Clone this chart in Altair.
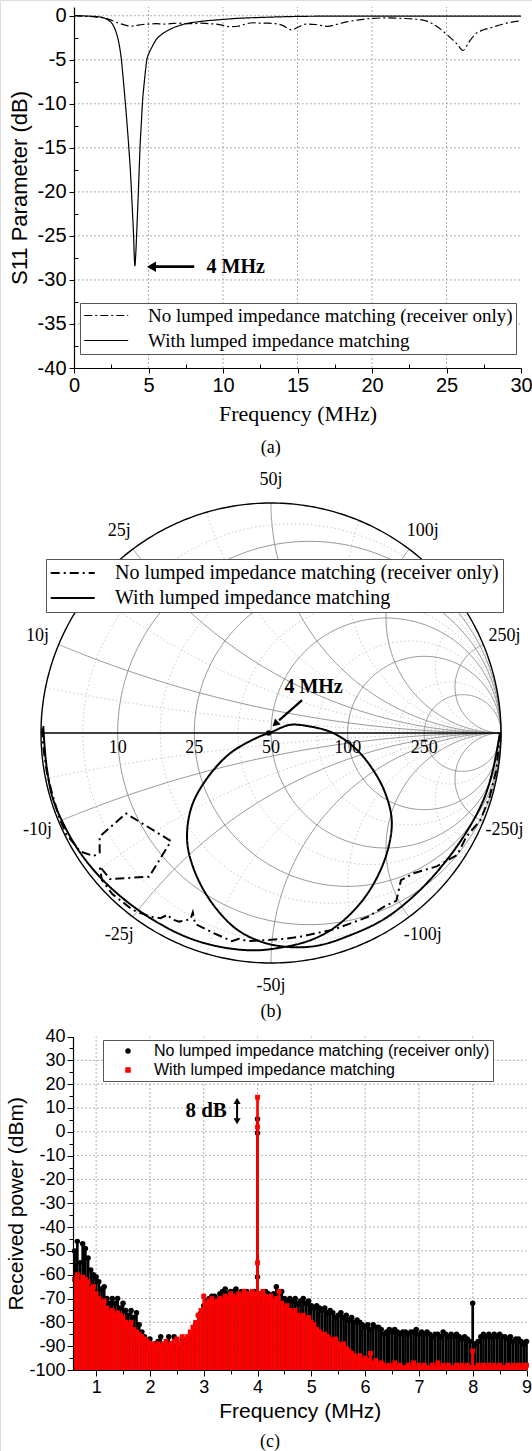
import altair as alt
import numpy as np
import pandas as pd

W, H = 532, 1451
SERIF = "Liberation Serif"
SANS = "Liberation Sans"
NO = "No lumped impedance matching (receiver only)"
WITH = "With lumped impedance matching"

# ---------------- (a) S11 parameter ----------------
a_with_f = [0, 0.5, 1.0, 1.5, 2.0, 2.3, 2.6, 2.85, 3.0, 3.18, 3.32, 3.45, 3.57, 3.68, 3.78, 3.86, 3.93, 4.0, 4.05, 4.09,
            4.13, 4.2, 4.26, 4.32, 4.375, 4.43, 4.51, 4.59, 4.72, 4.89, 5.05, 5.25, 5.5, 5.9, 6.5, 7.3, 8.5, 9.8, 11, 12.5,
            14, 16, 18, 20, 25, 30]
a_with_s = [0, -0.02, -0.05, -0.1, -0.25, -0.5, -1.0, -2.0, -3.0, -5, -7.5, -10, -12.5, -15, -17.5, -20, -22.5, -25, -27.5, -28.4,
            -27.5, -25, -22.5, -20, -17.5, -15, -12.5, -10, -7.5, -5, -4.2, -3.5, -2.75, -2.1, -1.5, -1.0, -0.65, -0.45, -0.3, -0.2,
            -0.12, -0.06, -0.05, -0.05, -0.05, -0.05]
a_no_f = [0, 0.5, 1, 1.5, 2, 2.5, 3, 3.5, 3.8, 4.2, 4.6, 5.0, 5.5, 6, 6.5, 7, 7.5, 8, 8.5, 9,
          9.5, 10, 10.5, 11, 11.5, 12, 12.5, 13, 13.5, 14, 14.6, 15.1, 15.6, 16.2, 17, 17.6, 18.3, 19, 20, 21,
          22, 23, 23.8, 24.5, 25.2, 25.7, 26.1, 26.5, 27, 27.5, 28, 28.7, 29.3, 30]
a_no_s = [0, -0.05, -0.08, -0.15, -0.25, -0.5, -0.85, -1.1, -1.2, -1.1, -1.0, -0.95, -0.9, -0.95, -0.9, -0.85, -0.9, -0.9, -0.85, -0.9,
          -0.95, -1.1, -1.25, -1.2, -0.95, -0.8, -0.85, -0.85, -0.9, -1.1, -1.6, -1.25, -0.95, -1.0, -1.2, -1.0, -0.7, -0.5, -0.3, -0.25,
          -0.3, -0.4, -0.7, -1.4, -2.4, -3.2, -3.95, -3.0, -2.0, -1.6, -1.35, -1.0, -0.75, -0.6]
a_major_x = [0, 5, 10, 15, 20, 25, 30]
a_major_y = [-40, -35, -30, -25, -20, -15, -10, -5, 0]
a_grid_x = [5, 10, 15, 20, 25]
a_grid_y = [-35, -30, -25, -20, -15, -10, -5, 0]
a_minor_x = [2.5, 7.5, 12.5, 17.5, 22.5, 27.5]
a_minor_y = [-37.5, -32.5, -27.5, -22.5, -17.5, -12.5, -7.5, -2.5]

# ---------------- (b) Smith chart ----------------
smith_r_major = [0.2, 0.5, 1.0, 2.0, 5.0]
smith_r_minor = [0.1, 0.35, 0.75, 1.5, 3.5]
smith_x_major = [0.2, 0.5, 1.0, 2.0, 5.0]
smith_x_minor = [0.1, 0.35, 0.75, 1.5, 3.5]
z0 = 50
b_with_gx = [-0.99, -0.985, -0.975, -0.95, -0.90, -0.83, -0.74, -0.63, -0.50, -0.36, -0.22, -0.08, 0.03,
             0.16, 0.27, 0.38, 0.46, 0.51, 0.525, 0.50, 0.45, 0.37, 0.27, 0.16, 0.08, 0.0, -0.06, -0.18, -0.28,
             -0.345, -0.365, -0.34, -0.27, -0.16, -0.05, 0.07,
             0.2, 0.33, 0.49, 0.63, 0.75, 0.85, 0.92, 0.96, 0.985, 0.995]
b_with_gy = [0.03, -0.05, -0.15, -0.28, -0.40, -0.52, -0.63, -0.73, -0.82, -0.89, -0.93, -0.945, -0.935,
             -0.905, -0.85, -0.75, -0.63, -0.50, -0.38, -0.27, -0.17, -0.07, 0.0, 0.03, 0.035, 0.003, -0.02, -0.09, -0.20,
             -0.32, -0.46, -0.58, -0.72, -0.845, -0.905, -0.93,
             -0.925, -0.885, -0.81, -0.70, -0.57, -0.43, -0.30, -0.18, -0.06, 0.0]
b_no_gx = [-0.995, -0.99, -0.975, -0.95, -0.92, -0.89, -0.83, -0.77, -0.745, -0.745, -0.63, -0.435, -0.53, -0.70, -0.745,
           -0.735, -0.69, -0.60, -0.52, -0.48, -0.45, -0.43, -0.40, -0.35, -0.34, -0.33, -0.25, -0.17, -0.14, -0.10,
           -0.02, 0.06, 0.13, 0.27, 0.34, 0.42, 0.50, 0.545, 0.565, 0.62, 0.72, 0.81, 0.85, 0.91, 0.95, 0.98, 0.993, 0.998]
b_no_gy = [0.02, -0.06, -0.17, -0.27, -0.37, -0.44, -0.515, -0.535, -0.52, -0.45, -0.35, -0.47, -0.625, -0.635, -0.58,
           -0.64, -0.70, -0.77, -0.80, -0.805, -0.79, -0.81, -0.82, -0.81, -0.78, -0.83, -0.87, -0.905, -0.895, -0.905,
           -0.90, -0.895, -0.885, -0.855, -0.83, -0.80, -0.75, -0.73, -0.64, -0.61, -0.58, -0.53, -0.45, -0.38, -0.28, -0.16, -0.03, 0.0]

# ---------------- (c) received power ----------------
c_freq = [round(0.6 + 0.05 * i, 2) for i in range(169)]
c_no = [-50, -46, -55, -47, -49, -53, -58, -60, -61, -63,
        -66, -65, -70, -72, -70, -72, -70, -74, -72, -75,
        -77, -75, -78, -76, -81, -84, -86, -88, -87, -90,
        -89, -88, -86, -90, -89, -86, -89, -86, -88, -91,
        -87, -89, -88, -86, -84, -81, -77, -76, -73, -71,
        -70, -69, -69, -70, -68, -67, -66, -68, -67, -67,
        -66, -68, -67, -67, -67, -69, -68, -67, 5.4, -68,
        -69, -67, -68, -69, -68, -65, -68, -67, -70, -71,
        -70, -71, -70, -72, -71, -70, -72, -71, -73, -74,
        -73, -74, -75, -74, -76, -75, -76, -78, -77, -76,
        -78, -77, -79, -78, -80, -79, -80, -81, -82, -81,
        -83, -81, -82, -82, -83, -85, -84, -83, -84, -83,
        -84, -85, -84, -84, -85, -84, -84, -83, -85, -84,
        -85, -84, -85, -86, -85, -85, -86, -84, -85, -86,
        -85, -86, -85, -86, -87, -86, -87, -88, -72, -89,
        -88, -86, -85, -86, -85, -86, -85, -86, -85, -86,
        -86, -87, -86, -88, -87, -87, -88, -89, -88]
c_with = [-62, -60, -63, -61, -62, -63, -66, -65, -68, -70,
          -72, -71, -74, -76, -75, -77, -76, -77, -78, -80,
          -81, -80, -83, -84, -85, -86, -87, -88, -89, -89,
          -90, -89, -90, -89, -88, -90, -89, -88, -87, -89,
          -86, -87, -86, -84, -82, -80, -77, -75, -69, -72,
          -71, -70, -72, -71, -70, -71, -69, -70, -68, -69,
          -70, -68, -69, -67, -68, -69, -67, -68, 14.5, -68,
          -67, -69, -70, -69, -71, -70, -67, -72, -74, -73,
          -75, -76, -75, -77, -78, -77, -79, -78, -80, -81,
          -83, -84, -85, -85, -86, -87, -88, -87, -89, -90,
          -89, -91, -92, -93, -94, -95, -94, -96, -95, -96,
          -93, -97, -96, -98, -97, -98, -99, -98, -99, -97,
          -99, -98, -99, -99, -98, -99, -97, -99, -98, -99,
          -98, -99, -99, -98, -99, -97, -99, -98, -99, -98,
          -99, -99, -98, -99, -98, -99, -98, -99, -92, -99,
          -98, -99, -98, -99, -98, -99, -98, -99, -98, -99,
          -99, -98, -99, -98, -99, -98, -99, -98, -98]
c_no_extra_f, c_no_extra_db = [4.0, 4.0], [-0.5, -61]
c_with_extra_f, c_with_extra_db = [4.0, 4.0], [2.0, -55]
c_major_x = [1, 2, 3, 4, 5, 6, 7, 8, 9]
c_major_y = list(range(-100, 41, 10))
c_grid_x = [1, 2, 3, 4, 5, 6, 7, 8]
c_grid_y = list(range(-90, 31, 10))
c_minor_x = [1.5, 2.5, 3.5, 4.5, 5.5, 6.5, 7.5, 8.5]
c_minor_y = list(range(-95, 40, 10))


def sc(domain, rng):
    return alt.Scale(domain=domain, range=rng, nice=False, zero=False)


AX = sc([0, 30], [74, 521])
AY = sc([-40, 1], [368, 6.9])
BX = sc([-1, 1], [41, 501])
BY = sc([-1, 1], [963, 503])
CX = sc([0.57, 9], [73, 526.5])
CY = sc([-100, 40], [1370, 1036.5])

GRID = dict(color="#9a9a9a", strokeDash=[2, 2], strokeWidth=0.8)
NUM = "'' + datum.value"
LINE_SYM = "M-3,0L3,0"   # legend line symbol, 3*sqrt(size) px long


def main_axis(orient, offset, values, title, tfont, tsize, lsize, tpad=6, lpad=3, tick=5):
    return alt.Axis(orient=orient, offset=offset, values=values, title=title, titleFont=tfont,
                    titleFontSize=tsize, titleFontWeight="normal", titleColor="black", titlePadding=tpad,
                    labelFont=SANS, labelFontSize=lsize, labelColor="black", labelPadding=lpad,
                    tickSize=tick, tickColor="black", tickWidth=1, domainColor="black", domainWidth=1.2,
                    grid=False, labelExpr=NUM, labelFlush=False, labelOverlap=False, zindex=1)


def minor_axis(orient, offset, values, tick=4):
    return alt.Axis(orient=orient, offset=offset, values=values, labels=False, domain=False, title=None,
                    tickSize=tick, tickColor="black", tickWidth=1, grid=False, zindex=1)


def xy(xs, ys, xf="x", yf="y"):
    return dict(x=alt.X(f"{xf}:Q", scale=xs, axis=None), y=alt.Y(f"{yf}:Q", scale=ys, axis=None))


def line_legend(lx, ly, fsize, sw, pad, symoff, laboff):
    return alt.Legend(orient="none", legendX=lx, legendY=ly, title=None, labelFont=SERIF, labelFontSize=fsize,
                      labelColor="black", labelLimit=600, symbolType=LINE_SYM, symbolSize=215,
                      symbolStrokeWidth=sw, symbolStrokeColor="black", symbolFillColor="transparent",
                      strokeColor="#555555", fillColor="white", padding=pad, rowPadding=5,
                      symbolOffset=symoff, labelOffset=laboff)


layers = []

# ---------- panel (a) ----------
gva = pd.DataFrame({"x": a_grid_x, "lo": -40, "hi": 1})
layers.append(alt.Chart(gva).mark_rule(**GRID).encode(
    x=alt.X("x:Q", scale=AX, axis=minor_axis("top", -368, a_minor_x)),
    y=alt.Y("lo:Q", scale=AY, axis=None), y2="hi:Q"))
gha = pd.DataFrame({"y": a_grid_y, "lo": 0, "hi": 30})
layers.append(alt.Chart(gha).mark_rule(**GRID).encode(
    y=alt.Y("y:Q", scale=AY, axis=minor_axis("right", 74 - W, a_minor_y)),
    x=alt.X("lo:Q", scale=AX, axis=None), x2="hi:Q"))
dfa = pd.DataFrame({"f": a_no_f + a_with_f, "s": a_no_s + a_with_s,
                    "series": [NO] * len(a_no_f) + [WITH] * len(a_with_f)})
legA = line_legend(80, 303, 19, 1.2, 3, 13.7, 32.3)
layers.append(alt.Chart(dfa).mark_line(color="black", strokeWidth=1.2, interpolate="monotone").encode(
    x=alt.X("f:Q", scale=AX, axis=main_axis("bottom", 368 - H, a_major_x, "Frequency (MHz)", SERIF, 22, 20, tpad=8, lpad=2)),
    y=alt.Y("s:Q", scale=AY, axis=main_axis("left", -74, a_major_y, "S11 Parameter (dB)", SANS, 22, 20)),
    strokeDash=alt.StrokeDash("series:N", scale=alt.Scale(domain=[NO, WITH], range=[[8, 3, 2, 3], [1, 0]]), legend=legA)))
arrA = pd.DataFrame({"x": [8.07], "x2": [5.5], "y": [-28.5]})
layers.append(alt.Chart(arrA).mark_rule(color="black", strokeWidth=2.7).encode(
    x=alt.X("x:Q", scale=AX, axis=None), x2="x2:Q", y=alt.Y("y:Q", scale=AY, axis=None)))
layers.append(alt.Chart(pd.DataFrame({"x": [5.2], "y": [-28.5]})).mark_point(
    shape="triangle-left", filled=True, color="black", size=110, opacity=1).encode(**xy(AX, AY)))
txtA = pd.DataFrame({"x": [10.85], "y": [-28.5], "t": ["4 MHz"]})
layers.append(alt.Chart(txtA).mark_text(font=SERIF, fontSize=20, fontWeight="bold", color="black",
                                        baseline="middle").encode(text="t:N", **xy(AX, AY)))
capA = pd.DataFrame({"x": [13.2], "y": [-49.1], "t": ["(a)"]})
layers.append(alt.Chart(capA).mark_text(font=SERIF, fontSize=18, color="black", baseline="middle").encode(
    text="t:N", **xy(AX, AY)))

# ---------- panel (b) Smith chart ----------


def r_circle(r, n=240):
    t = np.linspace(0, 2 * np.pi, n)
    c, rad = r / (1 + r), 1 / (1 + r)
    return c + rad * np.cos(t), rad * np.sin(t)


def x_arc(x, n=240):
    rr = np.concatenate([[0.0], np.logspace(-2.5, 3.5, n)])
    g = (rr + 1j * x - 1) / (rr + 1j * x + 1)
    return g.real, g.imag


def grid_frame(rvals, xvals):
    parts = []
    for i, r in enumerate(rvals):
        gx, gy = r_circle(r)
        parts.append(pd.DataFrame({"gx": gx, "gy": gy, "gid": f"r{i}", "k": np.arange(len(gx))}))
    for i, x in enumerate(xvals):
        for sgn in (1, -1):
            gx, gy = x_arc(sgn * x)
            parts.append(pd.DataFrame({"gx": gx, "gy": gy, "gid": f"x{i}{sgn}", "k": np.arange(len(gx))}))
    return pd.concat(parts, ignore_index=True)


minor_df = grid_frame(smith_r_minor, smith_x_minor)
layers.append(alt.Chart(minor_df).mark_line(color="#bdbdbd", strokeDash=[1.5, 2.5], strokeWidth=0.8).encode(
    detail="gid:N", order="k:Q", **xy(BX, BY, "gx", "gy")))
major_df = grid_frame(smith_r_major, smith_x_major)
layers.append(alt.Chart(major_df).mark_line(color="#8c8c8c", strokeWidth=0.9).encode(
    detail="gid:N", order="k:Q", **xy(BX, BY, "gx", "gy")))
ux, uy = r_circle(0.0, 360)
unit_df = pd.DataFrame({"gx": ux, "gy": uy, "k": np.arange(len(ux))})
layers.append(alt.Chart(unit_df).mark_line(color="black", strokeWidth=1.4).encode(
    order="k:Q", **xy(BX, BY, "gx", "gy")))
layers.append(alt.Chart(pd.DataFrame({"x": [-1], "x2": [1], "y": [0]})).mark_rule(color="black", strokeWidth=1.3).encode(
    x=alt.X("x:Q", scale=BX, axis=None), x2="x2:Q", y=alt.Y("y:Q", scale=BY, axis=None)))
b_dash = alt.Scale(domain=[NO, WITH], range=[[9, 4, 2, 4], [1, 0]])
dfb_no = pd.DataFrame({"gx": b_no_gx, "gy": b_no_gy, "series": NO, "k": range(len(b_no_gx))})
dfb_with = pd.DataFrame({"gx": b_with_gx, "gy": b_with_gy, "series": WITH, "k": range(len(b_with_gx))})
legB = line_legend(46, 559, 20, 2.2, 4, 12.7, 32.3)
layers.append(alt.Chart(dfb_no).mark_line(color="black", strokeWidth=2.0).encode(
    order="k:Q", strokeDash=alt.StrokeDash("series:N", scale=b_dash, legend=legB),
    **xy(BX, BY, "gx", "gy")))
layers.append(alt.Chart(dfb_with).mark_line(color="black", strokeWidth=2.0, interpolate="catmull-rom").encode(
    order="k:Q", strokeDash=alt.StrokeDash("series:N", scale=b_dash, legend=None),
    **xy(BX, BY, "gx", "gy")))
layers.append(alt.Chart(pd.DataFrame({"x": [-0.01], "y": [0.0]})).mark_point(
    filled=True, color="black", size=30, opacity=1).encode(**xy(BX, BY)))
layers.append(alt.Chart(pd.DataFrame({"x": [0.135], "y": [0.143], "x2": [0.035], "y2": [0.055]})).mark_rule(
    color="black", strokeWidth=2.2).encode(
    x=alt.X("x:Q", scale=BX, axis=None), y=alt.Y("y:Q", scale=BY, axis=None), x2="x2:Q", y2="y2:Q"))
layers.append(alt.Chart(pd.DataFrame({"x": [0.022], "y": [0.043]})).mark_point(
    shape="triangle", filled=True, color="black", size=70, opacity=1, angle=228).encode(**xy(BX, BY)))
layers.append(alt.Chart(pd.DataFrame({"x": [0.185], "y": [0.2], "t": ["4 MHz"]})).mark_text(
    font=SERIF, fontSize=20, fontWeight="bold", color="black", baseline="middle").encode(text="t:N", **xy(BX, BY)))
rlab = pd.DataFrame({"x": [(r - 1) / (r + 1) for r in smith_r_major], "y": 0.0,
                     "t": [str(int(round(r * z0))) for r in smith_r_major]})
layers.append(alt.Chart(rlab).mark_text(font=SERIF, fontSize=18, color="black", baseline="middle", dy=15).encode(
    text="t:N", **xy(BX, BY)))
xl_x, xl_y, xl_t = [], [], []
for xv in smith_x_major:
    for sgn in (1, -1):
        g = (1j * sgn * xv - 1) / (1j * sgn * xv + 1)
        ang = np.angle(g)
        xl_x.append(1.1 * np.cos(ang))
        xl_y.append(1.1 * np.sin(ang))
        xl_t.append(("-" if sgn < 0 else "") + f"{int(round(xv * z0))}j")
xlab = pd.DataFrame({"x": xl_x, "y": xl_y, "t": xl_t})
layers.append(alt.Chart(xlab).mark_text(font=SERIF, fontSize=18, color="black", baseline="middle").encode(
    text="t:N", **xy(BX, BY)))
layers.append(alt.Chart(pd.DataFrame({"x": [0.0], "y": [-1.215], "t": ["(b)"]})).mark_text(
    font=SERIF, fontSize=18, color="black", baseline="middle").encode(text="t:N", **xy(BX, BY)))

# ---------- panel (c) ----------
gvc = pd.DataFrame({"x": c_grid_x, "lo": -100, "hi": 40})
layers.append(alt.Chart(gvc).mark_rule(**GRID).encode(
    x=alt.X("x:Q", scale=CX, axis=minor_axis("bottom", 1370 - H, c_minor_x, 4)),
    y=alt.Y("lo:Q", scale=CY, axis=None), y2="hi:Q"))
ghc = pd.DataFrame({"y": c_grid_y, "lo": 0.57, "hi": 9})
layers.append(alt.Chart(ghc).mark_rule(**GRID).encode(
    y=alt.Y("y:Q", scale=CY, axis=minor_axis("left", -73, c_minor_y, 4)),
    x=alt.X("lo:Q", scale=CX, axis=None), x2="hi:Q"))
ser_color = alt.Scale(domain=[NO, WITH], range=["black", "#ff0000"])
ser_shape = alt.Scale(domain=[NO, WITH], range=["circle", "square"])
legC = alt.Legend(orient="none", legendX=103, legendY=1040, title=None, labelFont=SANS, labelFontSize=16,
                  labelColor="black", labelLimit=600, symbolSize=30, symbolStrokeWidth=0,
                  strokeColor="#555555", fillColor="white", padding=3, rowPadding=3, labelOffset=18,
                  symbolOffset=14)
no_df = pd.DataFrame({"f": c_freq, "db": c_no, "lo": -100, "series": NO})
with_df = pd.DataFrame({"f": c_freq, "db": c_with, "lo": -100, "series": WITH})
layers.append(alt.Chart(no_df).mark_rule(color="black", strokeWidth=2.7).encode(
    x=alt.X("f:Q", scale=CX, axis=main_axis("bottom", 1370 - H, c_major_x, "Frequency (MHz)", SANS, 21, 18, tpad=4, lpad=2, tick=6)),
    y=alt.Y("db:Q", scale=CY, axis=main_axis("left", -73, c_major_y, "Received power (dBm)", SANS, 21, 18, tpad=2, lpad=2, tick=6)),
    y2="lo:Q"))
no_pts = pd.DataFrame({"f": c_freq + c_no_extra_f, "db": c_no + c_no_extra_db, "series": NO})
layers.append(alt.Chart(no_pts).mark_point(filled=True, size=30, opacity=1).encode(
    color=alt.Color("series:N", scale=ser_color, legend=legC),
    shape=alt.Shape("series:N", scale=ser_shape, legend=legC),
    **xy(CX, CY, "f", "db")))
layers.append(alt.Chart(with_df).mark_rule(color="#ff0000", strokeWidth=2.7).encode(
    x=alt.X("f:Q", scale=CX, axis=None), y=alt.Y("db:Q", scale=CY, axis=None), y2="lo:Q"))
with_pts = pd.DataFrame({"f": c_freq + c_with_extra_f, "db": c_with + c_with_extra_db, "series": WITH})
layers.append(alt.Chart(with_pts).mark_point(filled=True, size=24, opacity=1).encode(
    color=alt.Color("series:N", scale=ser_color, legend=None),
    shape=alt.Shape("series:N", scale=ser_shape, legend=None),
    **xy(CX, CY, "f", "db")))
layers.append(alt.Chart(pd.DataFrame({"x": [3.62], "y": [12.0], "y2": [5.5]})).mark_rule(
    color="black", strokeWidth=2).encode(
    x=alt.X("x:Q", scale=CX, axis=None), y=alt.Y("y:Q", scale=CY, axis=None), y2="y2:Q"))
heads = pd.DataFrame({"x": [3.62, 3.62], "y": [13.0, 4.4], "s": ["triangle-up", "triangle-down"]})
layers.append(alt.Chart(heads).mark_point(filled=True, color="black", size=50, opacity=1).encode(
    shape=alt.Shape("s:N", scale=None), **xy(CX, CY)))
layers.append(alt.Chart(pd.DataFrame({"x": [3.43], "y": [8.7], "t": ["8 dB"]})).mark_text(
    font=SERIF, fontSize=21, fontWeight="bold", color="black", align="right", baseline="middle").encode(
    text="t:N", **xy(CX, CY)))
layers.append(alt.Chart(pd.DataFrame({"x": [4.23], "y": [-130.2], "t": ["(c)"]})).mark_text(
    font=SERIF, fontSize=18, color="black", baseline="middle").encode(text="t:N", **xy(CX, CY)))

chart = alt.layer(*layers).properties(
    width=W, height=H, padding=0, autosize=alt.AutoSizeParams(type="none")
).resolve_scale(
    x="independent", y="independent", strokeDash="independent", color="independent", shape="independent"
).resolve_legend(
    strokeDash="independent", color="independent", shape="independent"
).configure_view(stroke=None).configure(background="white")

chart.save("out.html", embed_options={"renderer": "svg", "actions": False})
